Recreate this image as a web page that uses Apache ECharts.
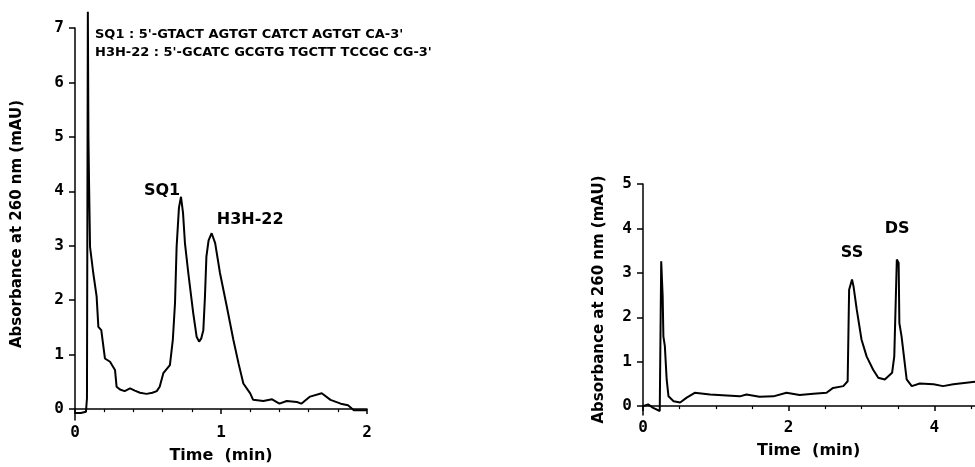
<!DOCTYPE html>
<html><head><meta charset="utf-8">
<script src="https://cdn.jsdelivr.net/npm/echarts@6/dist/echarts.min.js"></script>
<style>html,body{margin:0;padding:0;background:#fff}#c{width:975px;height:467px}</style>
</head><body><div id="c"></div>
<script>
// Left chromatogram (SQ1 / H3H-22)
var leftTime = [0,0.04,0.075,0.082,0.088,0.092,0.096,0.1,0.103,0.125,0.148,0.16,0.18,0.205,0.24,0.274,0.285,0.308,0.34,0.377,0.41,0.445,0.49,0.53,0.56,0.58,0.605,0.65,0.67,0.685,0.696,0.712,0.726,0.74,0.753,0.776,0.81,0.833,0.85,0.865,0.879,0.89,0.90,0.915,0.936,0.96,0.993,1.04,1.085,1.12,1.153,1.2,1.22,1.29,1.35,1.40,1.45,1.52,1.55,1.61,1.69,1.75,1.82,1.87,1.91,2.0];
var leftAbs  = [-0.07,-0.07,-0.05,0.2,7.3,5.0,4.2,3.5,2.98,2.5,2.07,1.51,1.45,0.93,0.87,0.72,0.41,0.36,0.33,0.38,0.34,0.30,0.28,0.30,0.33,0.41,0.66,0.81,1.27,1.95,2.98,3.7,3.9,3.6,3.05,2.5,1.76,1.33,1.24,1.3,1.45,2.06,2.8,3.1,3.23,3.05,2.5,1.88,1.27,0.84,0.47,0.29,0.17,0.15,0.18,0.10,0.15,0.13,0.10,0.23,0.29,0.17,0.10,0.07,-0.02,-0.02];
// Right chromatogram (SS / DS)
var rightTime = [0,0.07,0.14,0.23,0.245,0.25,0.27,0.28,0.30,0.325,0.35,0.42,0.51,0.6,0.71,0.92,1.15,1.33,1.42,1.60,1.79,1.97,2.15,2.34,2.52,2.61,2.75,2.81,2.83,2.87,2.89,2.935,3.00,3.07,3.16,3.23,3.32,3.42,3.45,3.485,3.51,3.52,3.55,3.62,3.69,3.80,3.99,4.12,4.26,4.56];
var rightAbs  = [0,0.04,-0.04,-0.11,-0.11,3.26,2.47,1.57,1.35,0.6,0.22,0.11,0.08,0.19,0.30,0.26,0.24,0.22,0.26,0.21,0.22,0.30,0.25,0.28,0.30,0.41,0.45,0.56,2.62,2.85,2.70,2.17,1.50,1.12,0.82,0.64,0.60,0.75,1.12,3.30,3.22,1.87,1.57,0.60,0.45,0.51,0.49,0.45,0.49,0.55];
// Tick labels
var leftYTicks = [0,1,2,3,4,5,6,7];
var leftXTicks = [0,1,2];
var rightYTicks = [0,1,2,3,4,5];
// Peak labels
var leftPeaks = [{name:'SQ1', x:0.596, y:4.0},{name:'H3H-22', x:1.2, y:3.47}];
var rightPeaks = [{name:'SS', x:2.87, y:3.45},{name:'DS', x:3.49, y:3.99}];
var seqLines = ["SQ1 : 5'-GTACT AGTGT CATCT AGTGT CA-3'", "H3H-22 : 5'-GCATC GCGTG TGCTT TCCGC CG-3'"];

function zip(a,b){return a.map(function(v,i){return [v,b[i]];});}
var tickFont = {fontFamily:'DejaVu Sans Mono', fontWeight:'bold', fontSize:16, color:'#000'};
var titleFont = {fontFamily:'DejaVu Sans', fontWeight:'bold', fontSize:15, color:'#000'};
var axLine = {show:true, lineStyle:{color:'#000', width:1.5}};
var peakLabel = {show:true, position:'inside', formatter:'{b}', fontFamily:'DejaVu Sans', fontWeight:'bold', fontSize:16, color:'#000', opacity:1, textBorderWidth:0};

var chart = echarts.init(document.getElementById('c'));
chart.setOption({
  backgroundColor:'#fff',
  animation:false,
  grid:[
    {left:75, right:608, top:28, bottom:47, outerBoundsMode:'none'},
    {left:643, right:-105, top:184, bottom:52, outerBoundsMode:'none'}
  ],
  xAxis:[
    {gridIndex:0, type:'value', min:0, max:2, interval:1, axisLine:axLine,
     axisTick:{show:true, length:5, lineStyle:{color:'#000', width:1.5}},
     minorTick:{show:true, splitNumber:5, length:3, lineStyle:{color:'#000', width:1.2}},
     axisLabel:Object.assign({margin:5}, tickFont), splitLine:{show:false},
     name:'Time  (min)', nameLocation:'middle', nameGap:28,
     nameTextStyle:Object.assign({}, titleFont, {fontSize:16})},
    {gridIndex:1, type:'value', min:0, max:6, interval:2, axisLine:axLine,
     axisTick:{show:true, length:5, lineStyle:{color:'#000', width:1.5}},
     minorTick:{show:true, splitNumber:4, length:3, lineStyle:{color:'#000', width:1.2}},
     axisLabel:Object.assign({margin:5}, tickFont), splitLine:{show:false}}
  ],
  yAxis:[
    {gridIndex:0, type:'value', min:-0.2, max:7, axisLine:axLine,
     axisTick:{show:true, length:6, customValues:leftYTicks, lineStyle:{color:'#000', width:1.5}},
     axisLabel:Object.assign({margin:11, customValues:leftYTicks}, tickFont), splitLine:{show:false},
     name:'Absorbance at 260 nm (mAU)', nameLocation:'middle', nameGap:50, nameTextStyle:titleFont},
    {gridIndex:1, type:'value', min:-0.2, max:5, axisLine:axLine,
     axisTick:{show:true, length:6, customValues:rightYTicks, lineStyle:{color:'#000', width:1.5}},
     axisLabel:Object.assign({margin:11, customValues:rightYTicks}, tickFont), splitLine:{show:false},
     name:'Absorbance at 260 nm (mAU)', nameLocation:'middle', nameGap:36, nameTextStyle:titleFont}
  ],
  graphic:[
    {type:'text', left:95, top:28, style:{text:seqLines[0], font:'bold 13px "DejaVu Sans"', fill:'#000'}},
    {type:'text', left:95, top:46, style:{text:seqLines[1], font:'bold 13px "DejaVu Sans"', fill:'#000'}},
    {type:'text', left:757, top:443, style:{text:'Time  (min)', font:'bold 16px "DejaVu Sans"', fill:'#000'}}
  ],
  series:[
    {type:'line', xAxisIndex:0, yAxisIndex:0, data:zip(leftTime,leftAbs), showSymbol:false, clip:false,
     lineStyle:{color:'#000', width:2}},
    {type:'line', xAxisIndex:1, yAxisIndex:1, data:zip(rightTime,rightAbs), showSymbol:false, clip:false,
     lineStyle:{color:'#000', width:2}},
    {type:'scatter', xAxisIndex:0, yAxisIndex:0, symbolSize:0, silent:true,
     data:leftPeaks.map(function(p){return {name:p.name, value:[p.x,p.y]};}), label:peakLabel},
    {type:'scatter', xAxisIndex:1, yAxisIndex:1, symbolSize:0, silent:true,
     data:rightPeaks.map(function(p){return {name:p.name, value:[p.x,p.y]};}), label:peakLabel}
  ]
});
</script></body></html>
